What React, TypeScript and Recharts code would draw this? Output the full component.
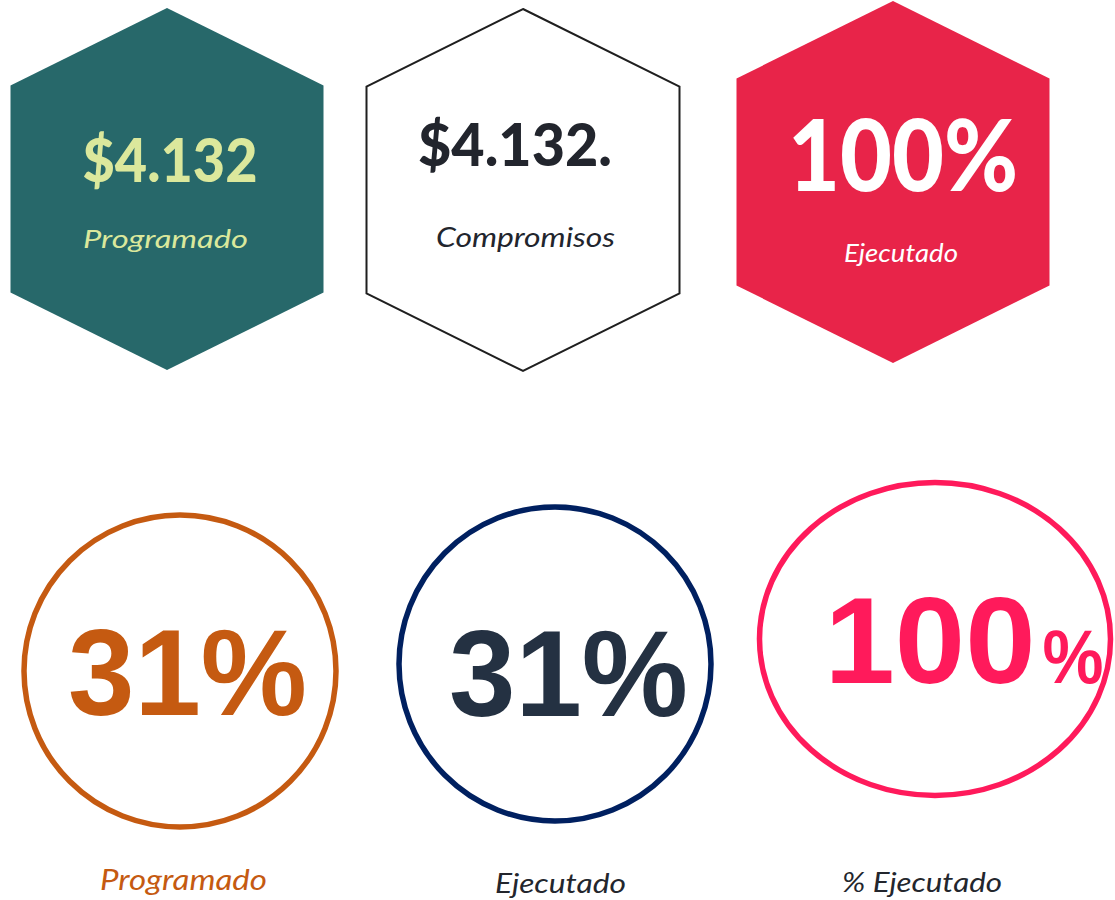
import React from "react";
import { ScatterChart, Scatter, XAxis, YAxis } from "recharts";

// ---- data ----
const COLUMNS = [0, 1, 2];
const HEX_VALUES = ["$4.132", "$4.132.", "100%"];
const HEX_LABELS = ["Programado", "Compromisos", "Ejecutado"];
const CIRCLE_VALUES = ["31%", "31%", "100"];
const CIRCLE_SUFFIX = ["", "", "%"];
const CIRCLE_LABELS = ["Programado", "Ejecutado", "% Ejecutado"];

// ---- styles / layout (kept apart from the data) ----
const HEX_STYLE = [
  { fill: "#27686a", stroke: "none", sw: 0, valColor: "#dbe89c", labColor: "#dbe89c", dx: 2, dy: 0,
    val: { x: 3, y: -7, size: 61, len: 175 }, lab: { x: -1.5, y: 59, size: 26, len: 165 } },
  { fill: "#ffffff", stroke: "#1f1f1f", sw: 2, valColor: "#22252d", labColor: "#22252d", dx: -5, dy: 1,
    val: { x: -8, y: -24, size: 59, len: 194 }, lab: { x: 2.5, y: 57, size: 27, len: 179 } },
  { fill: "#e82449", stroke: "none", sw: 0, valColor: "#ffffff", labColor: "#ffffff", dx: 2, dy: -7,
    val: { x: 10, y: 9, size: 99, len: 230 }, lab: { x: 8, y: 80, size: 26, len: 114 } },
];
const CIRCLE_STYLE = [
  { stroke: "#c55a11", rx: 156, ry: 156, valColor: "#c55a11", labColor: "#c55a11", dx: 0, dy: 0,
    val: { x: 7.5, y: 44, size: 123, len: 239 }, lab: { x: 3.5, y: 219, size: 28, len: 167 } },
  { stroke: "#002060", rx: 156, ry: 157, valColor: "#243142", labColor: "#23262d", dx: -2.5, dy: -7,
    val: { x: 13.5, y: 52, size: 123, len: 239 }, lab: { x: 5.5, y: 229, size: 27, len: 131 } },
  { stroke: "#ff1a5b", rx: 175.5, ry: 156.5, valColor: "#ff1a5b", labColor: "#23262d", dx: 0, dy: -32,
    val: { x: -5, y: 44, size: 123, len: 211 }, suf: { x: 138, y: 44, size: 76, len: 61 },
    lab: { x: -13, y: 253, size: 27, len: 160 } },
];

const hexData = COLUMNS.map((c, i) => ({ col: c, row: 0, value: HEX_VALUES[i], label: HEX_LABELS[i], idx: i }));
const circleData = COLUMNS.map((c, i) => ({
  col: c, row: 1, value: CIRCLE_VALUES[i], suffix: CIRCLE_SUFFIX[i], label: CIRCLE_LABELS[i], idx: i,
}));

const LATO = "Lato, 'Open Sans', sans-serif";
const ARIAL = "'Liberation Sans', Arial, sans-serif";

const HexShape = (props: any) => {
  const { cx, cy, payload } = props;
  if (cx == null || cy == null) return null;
  const s = HEX_STYLE[payload.idx];
  const x = cx + s.dx;
  const y = cy + s.dy;
  const w = 156.5;
  const pts = [
    [0, -181], [w, -103.5], [w, 103.5], [0, 181], [-w, 103.5], [-w, -103.5],
  ].map(([a, b]) => `${x + a},${y + b}`).join(" ");
  return (
    <g>
      <polygon points={pts} fill={s.fill} stroke={s.stroke} strokeWidth={s.sw} strokeLinejoin="miter" />
      <text x={x + s.val.x} y={y + s.val.y} textAnchor="middle" fontFamily={LATO} fontWeight={900}
        fontSize={s.val.size} fill={s.valColor} textLength={s.val.len} lengthAdjust="spacingAndGlyphs">
        {payload.value}
      </text>
      <text x={x + s.lab.x} y={y + s.lab.y} textAnchor="middle" fontFamily={LATO} fontStyle="italic"
        fontSize={s.lab.size} fill={s.labColor} textLength={s.lab.len} lengthAdjust="spacingAndGlyphs">
        {payload.label}
      </text>
    </g>
  );
};

const CircleShape = (props: any) => {
  const { cx, cy, payload } = props;
  if (cx == null || cy == null) return null;
  const s: any = CIRCLE_STYLE[payload.idx];
  const x = cx + s.dx;
  const y = cy + s.dy;
  return (
    <g>
      <ellipse cx={x} cy={y} rx={s.rx} ry={s.ry} fill="none" stroke={s.stroke} strokeWidth={5.5} />
      <text x={x + s.val.x} y={y + s.val.y} textAnchor="middle" fontFamily={ARIAL} fontWeight={700}
        fontSize={s.val.size} fill={s.valColor} textLength={s.val.len} lengthAdjust="spacingAndGlyphs">
        {payload.value}
      </text>
      {payload.suffix ? (
        <text x={x + s.suf.x} y={y + s.suf.y} textAnchor="middle" fontFamily={ARIAL} fontWeight={700}
          fontSize={s.suf.size} fill={s.valColor} textLength={s.suf.len} lengthAdjust="spacingAndGlyphs">
          {payload.suffix}
        </text>
      ) : null}
      <text x={x + s.lab.x} y={y + s.lab.y} textAnchor="middle" fontFamily={LATO} fontStyle="italic"
        fontSize={s.lab.size} fill={s.labColor} textLength={s.lab.len} lengthAdjust="spacingAndGlyphs">
        {payload.label}
      </text>
    </g>
  );
};

export default function App() {
  return (
    <div style={{ position: "absolute", left: 0, top: 0, width: 1115, height: 900, background: "#ffffff" }}>
      <ScatterChart width={1115} height={900} margin={{ top: 0, right: 0, bottom: 0, left: 0 }}>
        <XAxis xAxisId="top" type="number" dataKey="col" domain={[-0.45455, 2.61708]} allowDataOverflow hide />
        <XAxis xAxisId="bottom" type="number" dataKey="col" domain={[-0.47682, 2.47682]} allowDataOverflow hide />
        <YAxis type="number" dataKey="row" domain={[-0.39212, 1.4751]} reversed allowDataOverflow hide />
        <Scatter xAxisId="top" data={hexData} shape={HexShape} isAnimationActive={false} />
        <Scatter xAxisId="bottom" data={circleData} shape={CircleShape} isAnimationActive={false} />
      </ScatterChart>
    </div>
  );
}
